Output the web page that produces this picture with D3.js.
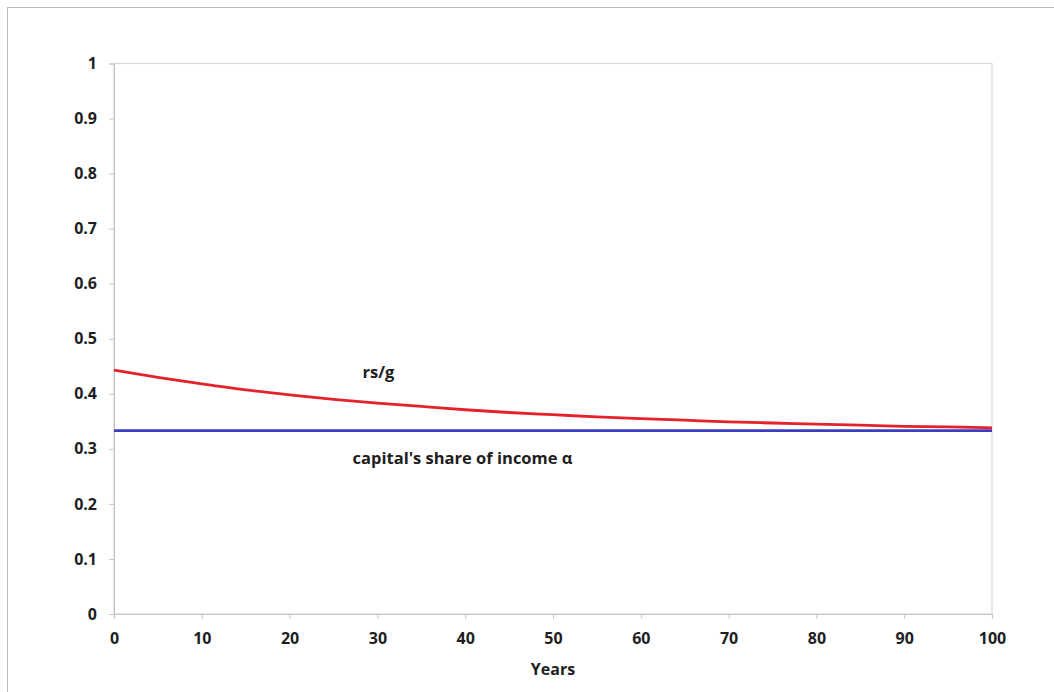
<!DOCTYPE html>
<html>
<head>
<meta charset="utf-8">
<script src="https://cdn.jsdelivr.net/npm/d3@7"></script>
<style>
  html, body { margin: 0; padding: 0; background: #fff; }
  svg text { font-family: "Open Sans", "Liberation Sans", Arial, sans-serif; font-weight: bold; fill: #1e1e1e; }
</style>
</head>
<body>
<svg id="chart" width="1054" height="692"></svg>
<script>
// ---- data ----
const years = [0, 5, 10, 15, 20, 25, 30, 35, 40, 45, 50, 55, 60, 65, 70, 75, 80, 85, 90, 95, 100];
const rsOverG = [0.443, 0.430, 0.418, 0.407, 0.398, 0.390, 0.383, 0.377, 0.371, 0.366, 0.362, 0.358, 0.355, 0.352, 0.349, 0.347, 0.345, 0.343, 0.341, 0.340, 0.338];
const capitalShare = [0.333, 0.333, 0.333, 0.333, 0.333, 0.333, 0.333, 0.333, 0.333, 0.333, 0.333, 0.333, 0.333, 0.333, 0.333, 0.333, 0.333, 0.333, 0.333, 0.333, 0.333];
const xTicks = [0, 10, 20, 30, 40, 50, 60, 70, 80, 90, 100];
const yTicks = [0, 0.1, 0.2, 0.3, 0.4, 0.5, 0.6, 0.7, 0.8, 0.9, 1];
const xTitle = "Years";
const labelRs = "rs/g";
const labelAlpha = "capital's share of income α";

// ---- layout ----
const svg = d3.select("#chart");
const pLeft = 114, pRight = 992, pTop = 63.5, pBottom = 614;
const x = d3.scaleLinear().domain([0, 100]).range([pLeft, pRight]);
const y = d3.scaleLinear().domain([0, 1]).range([pBottom, pTop]);
const fontStack = "'Open Sans', 'Liberation Sans', Arial, sans-serif";

// outer frame
svg.append("rect").attr("x", 7.5).attr("y", 7.5).attr("width", 1080).attr("height", 720)
  .attr("fill", "#fff").attr("stroke", "#bdbdbd").attr("stroke-width", 1);

// plot box
svg.append("rect").attr("x", pLeft).attr("y", pTop).attr("width", pRight - pLeft).attr("height", pBottom - pTop)
  .attr("fill", "none").attr("stroke", "#d6d6d6").attr("stroke-width", 1.2);

// axes
const xAxis = d3.axisBottom(x).tickValues(xTicks).tickFormat(d3.format("d")).tickSize(5).tickPadding(14);
const gx = svg.append("g").attr("transform", `translate(0,${pBottom})`).call(xAxis);
const yAxis = d3.axisLeft(y).tickValues(yTicks).tickFormat(d => d === 0 || d === 1 ? String(d) : d3.format(".1f")(d)).tickSize(5).tickPadding(12);
const gy = svg.append("g").attr("transform", `translate(${pLeft},0)`).call(yAxis);
[gx, gy].forEach(g => {
  g.select(".domain").attr("stroke", "#c8c8c8").attr("stroke-width", 1.2);
  g.selectAll(".tick line").attr("stroke", "#c8c8c8");
  g.selectAll(".tick text").style("font-family", fontStack)
    .style("font-weight", "bold").style("font-size", "16px").attr("fill", "#1e1e1e");
});

// x title
svg.append("text").attr("x", x(50)).attr("y", 675).attr("text-anchor", "middle")
  .style("font-size", "16px").text(xTitle);

// lines
const line = d3.line().x((d, i) => x(years[i])).y(d => y(d)).curve(d3.curveMonotoneX);
svg.append("path").datum(capitalShare).attr("d", line).attr("fill", "none")
  .attr("stroke", "#3c3cc0").attr("stroke-width", 2.8);
svg.append("path").datum(rsOverG).attr("d", line).attr("fill", "none")
  .attr("stroke", "#e3222c").attr("stroke-width", 2.8);

// labels
svg.append("text").attr("x", x(30) + 1).attr("y", 378).attr("text-anchor", "middle")
  .style("font-size", "16.5px").text(labelRs);
svg.append("text").attr("x", x(39.7)).attr("y", 464).attr("text-anchor", "middle")
  .style("font-size", "16.5px").text(labelAlpha);
</script>
</body>
</html>
